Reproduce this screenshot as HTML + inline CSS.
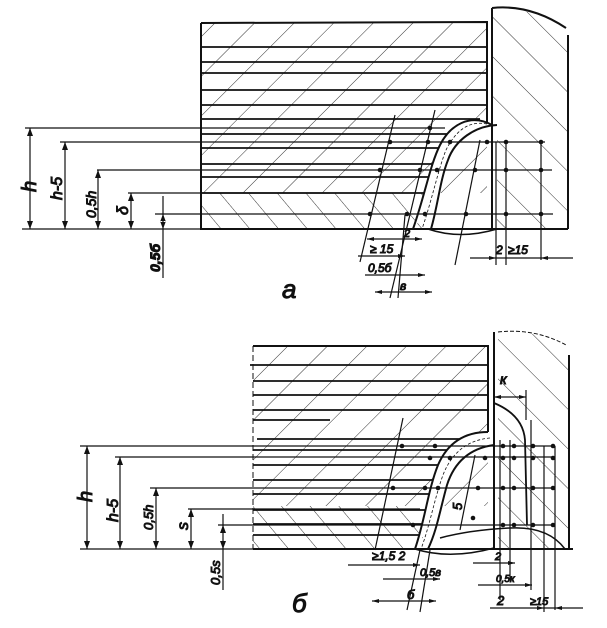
<!DOCTYPE html>
<html><head><meta charset="utf-8"><style>
html,body{margin:0;padding:0;background:#fff;}
svg{display:block}
text{font-family:"Liberation Sans",sans-serif;font-style:italic;fill:#111}
</style></head><body>
<svg width="607" height="628" viewBox="0 0 607 628" xmlns="http://www.w3.org/2000/svg">
<defs>
<pattern id="hb" patternUnits="userSpaceOnUse" width="28" height="28" patternTransform="rotate(45)"><line x1="0" y1="0" x2="0" y2="28" stroke="#333" stroke-width="1"/></pattern>
<pattern id="hf" patternUnits="userSpaceOnUse" width="28" height="28" patternTransform="rotate(-45)"><line x1="0" y1="0" x2="0" y2="28" stroke="#333" stroke-width="1"/></pattern>
<pattern id="hf2" patternUnits="userSpaceOnUse" width="22" height="22" patternTransform="rotate(-40)"><line x1="0" y1="0" x2="0" y2="22" stroke="#333" stroke-width="1"/></pattern>
</defs>
<g stroke="#111" fill="none">
<!-- ===== TOP FIGURE ===== -->
<rect x="201" y="23" width="286" height="170" fill="url(#hb)" stroke="none"/>
<rect x="201" y="193" width="230" height="36" fill="url(#hf2)" stroke="none"/>
<path d="M492 10 Q530 5 568 30 L568 229 L497 229 L497 125 L492 125 Z" fill="url(#hf)" stroke="none"/>
<path d="M201 23 L487 22 L487 124 M201 23 L201 229 L568 229 M568 35 L568 229 M492 8 L492 229 M492 8 Q530 4 566 28" stroke-width="2"/>
<g stroke-width="1.8">
<line x1="201" y1="47" x2="487" y2="47"/><line x1="201" y1="62" x2="487" y2="62"/><line x1="201" y1="73" x2="487" y2="73"/><line x1="201" y1="90" x2="487" y2="90"/><line x1="201" y1="105" x2="487" y2="105"/><line x1="201" y1="119" x2="480" y2="119"/><line x1="201" y1="134" x2="455" y2="134"/><line x1="201" y1="148" x2="440" y2="148"/><line x1="201" y1="164" x2="432" y2="164"/><line x1="201" y1="177" x2="428" y2="177"/><line x1="201" y1="193" x2="425" y2="193"/>
</g>
<path d="M492 125 C470 113 450 125 440 145 C430 165 425 195 413 229" stroke-width="2" fill="#fff"/>
<path d="M497 125 C475 126 455 140 448 160 C440 180 438 205 431 229" stroke-width="2"/>
<path d="M487 124 C468 120 455 132 446 150 C438 170 432 200 422 229" stroke-width="0.8" stroke-dasharray="3 2"/>
<path d="M428 229 Q460 240 497 229" stroke-width="1.5"/>
<g stroke-width="1.2">
<line x1="22" y1="229" x2="201" y2="229"/>
<line x1="25" y1="128" x2="445" y2="128"/><line x1="60" y1="142" x2="545" y2="142"/><line x1="97" y1="170" x2="552" y2="170"/><line x1="128" y1="193" x2="330" y2="193"/><line x1="155" y1="214" x2="553" y2="214"/>
<line x1="30" y1="128" x2="30" y2="229"/><line x1="65" y1="142" x2="65" y2="229"/><line x1="98" y1="170" x2="98" y2="229"/><line x1="131" y1="193" x2="131" y2="229"/><line x1="163" y1="196" x2="163" y2="278"/>
<line x1="506" y1="142" x2="506" y2="265"/><line x1="496" y1="142" x2="496" y2="265"/><line x1="541" y1="142" x2="541" y2="260"/>
<line x1="395" y1="115" x2="360" y2="262"/><line x1="435" y1="110" x2="390" y2="298"/><line x1="405" y1="215" x2="398" y2="298"/><line x1="480" y1="140" x2="455" y2="265"/>
<line x1="367" y1="239" x2="422" y2="239"/><line x1="358" y1="256" x2="405" y2="256"/><line x1="365" y1="275" x2="425" y2="275"/><line x1="375" y1="292" x2="432" y2="292"/><line x1="470" y1="258" x2="573" y2="258"/>
</g>
<g fill="#111" stroke="none">
<circle cx="430" cy="128" r="2.3"/><circle cx="390" cy="142" r="2.3"/><circle cx="428" cy="142" r="2.3"/><circle cx="450" cy="142" r="2.3"/><circle cx="487" cy="142" r="2.3"/><circle cx="506" cy="142" r="2.3"/><circle cx="541" cy="142" r="2.3"/>
<circle cx="380" cy="170" r="2.3"/><circle cx="420" cy="170" r="2.3"/><circle cx="437" cy="170" r="2.3"/><circle cx="475" cy="170" r="2.3"/><circle cx="506" cy="170" r="2.3"/><circle cx="541" cy="170" r="2.3"/>
<circle cx="370" cy="214" r="2.3"/><circle cx="407" cy="214" r="2.3"/><circle cx="425" cy="214" r="2.3"/><circle cx="466" cy="214" r="2.3"/><circle cx="506" cy="214" r="2.3"/><circle cx="541" cy="214" r="2.3"/>
<path d="M30 128 l-3 8 h6z M30 229 l-3 -8 h6z M65 142 l-3 8 h6z M65 229 l-3 -8 h6z M98 170 l-3 8 h6z M98 229 l-3 -8 h6z M131 193 l-3 8 h6z M131 229 l-3 -8 h6z M163 214 l-3 8 h6z M163 229 l-3 -8 h6z"/>
<path d="M422 239 l-7 -2 v4z M367 239 l7 -2 v4z M405 256 l-7 -2 v4z M425 275 l-7 -2 v4z M432 292 l-7 -2 v4z M375 292 l7 -2 v4z M496 258 l-7 -2 v4z M541 258 l7 -2 v4z"/>
</g>
<text x="0" y="0" font-size="20" transform="translate(36 192) rotate(-90)">h</text>
<text x="0" y="0" font-size="16" transform="translate(62 200) rotate(-90)">h-5</text>
<text x="0" y="0" font-size="14" transform="translate(96 218) rotate(-90)">0,5h</text>
<text x="0" y="0" font-size="16" transform="translate(128 215) rotate(-90)">δ</text>
<text x="0" y="0" font-size="14" transform="translate(160 272) rotate(-90)" font-weight="bold">0,5б</text>
<text x="404" y="237" font-size="11">2</text><text x="370" y="253" font-size="12">≥ 15</text><text x="368" y="272" font-size="12">0,5б</text><text x="400" y="290" font-size="12">в</text>
<text x="496" y="254" font-size="12">2</text><text x="508" y="254" font-size="12">≥15</text>
<text x="282" y="298" font-size="26">a</text>

<!-- ===== BOTTOM FIGURE ===== -->
<rect x="253" y="346" width="235" height="160" fill="url(#hb)" stroke="none"/>
<rect x="253" y="506" width="170" height="43" fill="url(#hf2)" stroke="none"/>
<path d="M498 332 Q535 330 569 345 L569 549 L498 549 Z" fill="url(#hf)" stroke="none"/>
<path d="M253 346 L488 346 L488 432 M253 549 L573 549 M569 355 L569 549 M494 332 L494 549" stroke-width="2"/>
<path d="M498 332 Q535 328 566 345" stroke-width="1" stroke-dasharray="4 2"/>
<line x1="253" y1="346" x2="253" y2="549" stroke-width="1" stroke-dasharray="6 3"/>
<g stroke-width="1.8">
<line x1="250" y1="365" x2="488" y2="365"/><line x1="253" y1="381" x2="488" y2="381"/><line x1="253" y1="395" x2="488" y2="395"/><line x1="253" y1="410" x2="488" y2="410"/><line x1="253" y1="420" x2="330" y2="420"/><line x1="257" y1="439" x2="470" y2="439"/><line x1="253" y1="450" x2="450" y2="450"/><line x1="253" y1="465" x2="440" y2="465"/><line x1="253" y1="480" x2="435" y2="480"/><line x1="253" y1="494" x2="430" y2="494"/><line x1="253" y1="510" x2="428" y2="510"/><line x1="253" y1="524" x2="425" y2="524"/><line x1="253" y1="535" x2="420" y2="535"/>
</g>
<path d="M488 432 C465 432 448 442 438 465 C428 490 425 520 415 549" stroke-width="2" fill="#fff"/>
<path d="M494 445 C472 448 455 460 447 485 C440 510 437 530 428 549" stroke-width="2"/>
<path d="M490 438 C468 440 452 452 443 475 C434 500 430 525 421 549" stroke-width="0.8" stroke-dasharray="3 2"/>
<path d="M494 403 Q523 415 525 440 L527 525" stroke-width="1.8"/>
<path d="M415 549 Q450 560 494 548" stroke-width="1.5"/>
<path d="M440 538 Q470 530 510 528 Q548 526 565 549" stroke-width="1.5"/>
<g stroke-width="1.2">
<line x1="80" y1="549" x2="253" y2="549"/>
<line x1="80" y1="446" x2="555" y2="446"/><line x1="115" y1="457" x2="555" y2="457"/><line x1="150" y1="488" x2="555" y2="488"/><line x1="188" y1="509" x2="420" y2="509"/><line x1="218" y1="525" x2="555" y2="525"/>
<line x1="87" y1="446" x2="87" y2="549"/><line x1="120" y1="457" x2="120" y2="549"/><line x1="156" y1="488" x2="156" y2="549"/><line x1="191" y1="509" x2="191" y2="549"/><line x1="223" y1="514" x2="223" y2="590"/>
<line x1="494" y1="397" x2="526" y2="397"/><line x1="526" y1="390" x2="526" y2="420"/>
<line x1="500" y1="440" x2="500" y2="600"/><line x1="510" y1="440" x2="510" y2="580"/><line x1="531" y1="420" x2="531" y2="590"/><line x1="544" y1="446" x2="544" y2="612"/><line x1="555" y1="446" x2="555" y2="610"/>
<line x1="403" y1="418" x2="375" y2="550"/><line x1="475" y1="455" x2="460" y2="530"/>
<line x1="348" y1="565" x2="420" y2="565"/><line x1="383" y1="579" x2="440" y2="579"/><line x1="372" y1="601" x2="436" y2="601"/>
<line x1="473" y1="563" x2="515" y2="563"/><line x1="478" y1="585" x2="532" y2="585"/><line x1="490" y1="608" x2="583" y2="608"/>
<line x1="420" y1="550" x2="407" y2="610"/><line x1="430" y1="550" x2="420" y2="612"/>
</g>
<g fill="#111" stroke="none">
<circle cx="402" cy="446" r="2.3"/><circle cx="435" cy="446" r="2.3"/><circle cx="503" cy="446" r="2.3"/><circle cx="514" cy="446" r="2.3"/><circle cx="533" cy="446" r="2.3"/><circle cx="553" cy="446" r="2.3"/>
<circle cx="430" cy="458" r="2.3"/><circle cx="450" cy="458" r="2.3"/><circle cx="485" cy="458" r="2.3"/><circle cx="503" cy="458" r="2.3"/><circle cx="514" cy="458" r="2.3"/><circle cx="533" cy="458" r="2.3"/><circle cx="553" cy="458" r="2.3"/>
<circle cx="393" cy="488" r="2.3"/><circle cx="425" cy="488" r="2.3"/><circle cx="438" cy="488" r="2.3"/><circle cx="478" cy="488" r="2.3"/><circle cx="503" cy="488" r="2.3"/><circle cx="514" cy="488" r="2.3"/><circle cx="533" cy="488" r="2.3"/><circle cx="553" cy="488" r="2.3"/>
<circle cx="413" cy="525" r="2.3"/><circle cx="473" cy="518" r="2.3"/><circle cx="503" cy="525" r="2.3"/><circle cx="514" cy="525" r="2.3"/><circle cx="533" cy="525" r="2.3"/><circle cx="553" cy="525" r="2.3"/>
<path d="M87 446 l-3 8 h6z M87 549 l-3 -8 h6z M120 457 l-3 8 h6z M120 549 l-3 -8 h6z M156 488 l-3 8 h6z M156 549 l-3 -8 h6z M191 509 l-3 8 h6z M191 549 l-3 -8 h6z M223 525 l-3 8 h6z M223 549 l-3 -8 h6z"/>
<path d="M526 397 l-7 -2 v4z M494 397 l7 -2 v4z M420 565 l-7 -2 v4z M440 579 l-7 -2 v4z M436 601 l-7 -2 v4z M372 601 l7 -2 v4z M515 563 l-7 -2 v4z M532 585 l-7 -2 v4z M544 608 l-7 -2 v4z M555 608 l7 -2 v4z"/>
</g>
<text x="0" y="0" font-size="20" transform="translate(92 502) rotate(-90)">h</text>
<text x="0" y="0" font-size="16" transform="translate(118 522) rotate(-90)">h-5</text>
<text x="0" y="0" font-size="13" transform="translate(153 530) rotate(-90)">0,5h</text>
<text x="0" y="0" font-size="16" transform="translate(188 530) rotate(-90)">s</text>
<text x="0" y="0" font-size="13" transform="translate(220 585) rotate(-90)">0,5s</text>
<text x="0" y="0" font-size="13" transform="translate(462 510) rotate(-90)">5</text>
<text x="500" y="384" font-size="14">к</text>
<text x="372" y="560" font-size="12">≥1,5 2</text><text x="420" y="576" font-size="11">0,5в</text><text x="407" y="599" font-size="13">б</text>
<text x="495" y="560" font-size="11">2</text><text x="496" y="582" font-size="10">0,5к</text><text x="497" y="605" font-size="13">2</text><text x="530" y="605" font-size="11">≥15</text>
<text x="292" y="612" font-size="26">б</text>
</g>
</svg>
</body></html>
